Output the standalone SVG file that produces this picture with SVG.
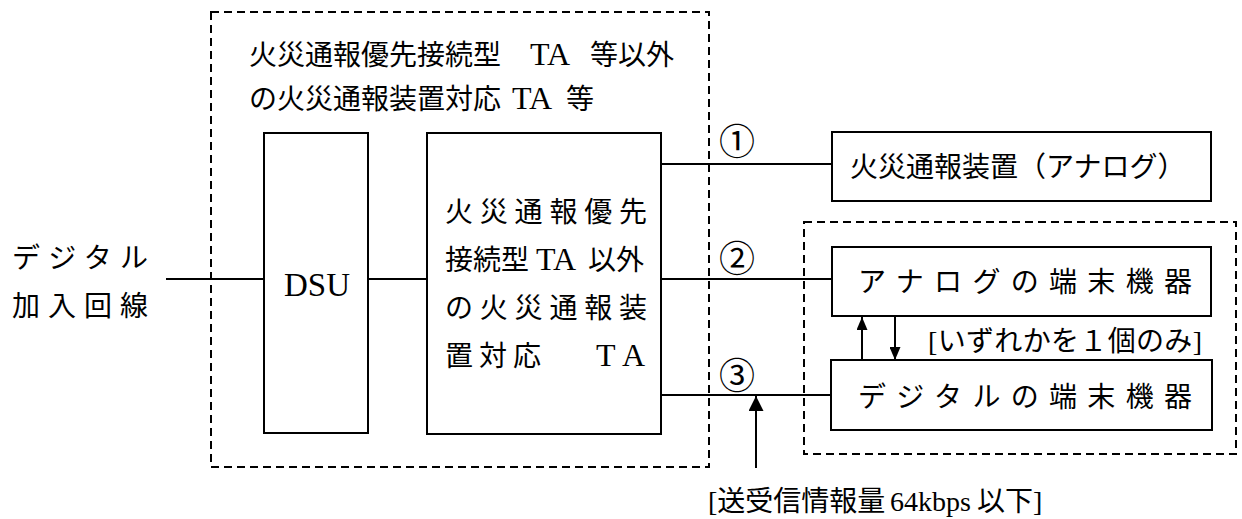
<svg xmlns="http://www.w3.org/2000/svg" width="1242" height="519" viewBox="0 0 1242 519">
<style>
  text { font-family: "Liberation Serif", "Noto Sans CJK JP", serif; fill: #000; }
  .t28 { font-size: 28px; }
  .lat { font-size: 32px; }
  .num { font-size: 36px; text-anchor: middle; }
  .box { fill: #fff; stroke: #000; stroke-width: 2; }
  .dash { fill: none; stroke: #000; stroke-width: 2; stroke-dasharray: 8 5; }
  .line { fill: none; stroke: #000; stroke-width: 2; }
</style>
<defs>
  <marker id="arr" viewBox="0 0 13 11" refX="13" refY="5.5" markerWidth="13" markerHeight="11" markerUnits="userSpaceOnUse" orient="auto">
    <path d="M0,0 L13,5.5 L0,11 Z" fill="#000"/>
  </marker>
  <marker id="arrL" viewBox="0 0 15 15" refX="15" refY="7.5" markerWidth="15" markerHeight="15" markerUnits="userSpaceOnUse" orient="auto">
    <path d="M0,0 L15,7.5 L0,15 Z" fill="#000"/>
  </marker>
</defs>
<rect width="1242" height="519" fill="#fff"/>

<g id="group-ta">
  <rect class="dash" x="211" y="12" width="498" height="455"/>
  <text class="t28" x="249" y="65">火災通報優先接続型<tspan class="lat" x="530">TA</tspan><tspan x="590">等以外</tspan></text>
  <text class="t28" x="249" y="109">の火災通報装置対応<tspan class="lat" x="512">TA</tspan><tspan x="566">等</tspan></text>
</g>

<g id="group-terminals">
  <rect class="dash" x="804" y="222" width="432" height="232"/>
</g>

<g id="connectors">
  <line class="line" x1="166" y1="279" x2="264" y2="279"/>
  <line class="line" x1="368" y1="279" x2="427" y2="279"/>
  <line class="line" x1="661" y1="164" x2="832" y2="164"/>
  <line class="line" x1="661" y1="279" x2="832" y2="279"/>
  <line class="line" x1="660" y1="395" x2="831" y2="395"/>
  <line class="line" x1="862" y1="360" x2="862" y2="317" marker-end="url(#arr)"/>
  <line class="line" x1="895" y1="317" x2="895" y2="360" marker-end="url(#arr)"/>
  <line class="line" x1="756" y1="468" x2="756" y2="396" marker-end="url(#arrL)"/>
  <text class="num" x="737" y="155">①</text>
  <text class="num" x="737" y="272">②</text>
  <text class="num" x="737" y="389">③</text>
  <text class="t28" x="928" y="351" textLength="274" lengthAdjust="spacing">[いずれかを１個のみ]</text>
  <text class="t28" x="708" y="511">[送受信情報量<tspan x="890">64kbps</tspan><tspan x="977">以下]</tspan></text>
</g>

<g id="line-label">
  <text class="t28" x="12" y="268" textLength="136" lengthAdjust="spacing">デジタル</text>
  <text class="t28" x="12" y="316" textLength="136" lengthAdjust="spacing">加入回線</text>
</g>

<g id="dsu">
  <rect class="box" x="264" y="133" width="104" height="300"/>
  <text x="317" y="296" font-size="33" text-anchor="middle">DSU</text>
</g>

<g id="ta">
  <rect class="box" x="427" y="133" width="234" height="301"/>
  <text class="t28" x="445" y="222" textLength="202" lengthAdjust="spacing">火災通報優先</text>
  <text class="t28" x="445" y="270">接続型<tspan class="lat" x="536">TA</tspan><tspan x="588">以外</tspan></text>
  <text class="t28" x="445" y="318" textLength="202" lengthAdjust="spacing">の火災通報装</text>
  <text class="t28" x="445" y="366">置<tspan x="479">対</tspan><tspan x="513">応</tspan><tspan class="lat" x="596">T</tspan><tspan class="lat" x="622">A</tspan></text>
</g>

<g id="fire-alarm">
  <rect class="box" x="832" y="132" width="379" height="69"/>
  <text class="t28" x="850" y="177">火災通報装置（アナログ）</text>
</g>

<g id="analog-terminal">
  <rect class="box" x="832" y="247" width="379" height="69"/>
  <text class="t28" x="858" y="292" textLength="334" lengthAdjust="spacing">アナログの端末機器</text>
</g>

<g id="digital-terminal">
  <rect class="box" x="831" y="360" width="381" height="70"/>
  <text class="t28" x="858" y="407" textLength="334" lengthAdjust="spacing">デジタルの端末機器</text>
</g>
</svg>
